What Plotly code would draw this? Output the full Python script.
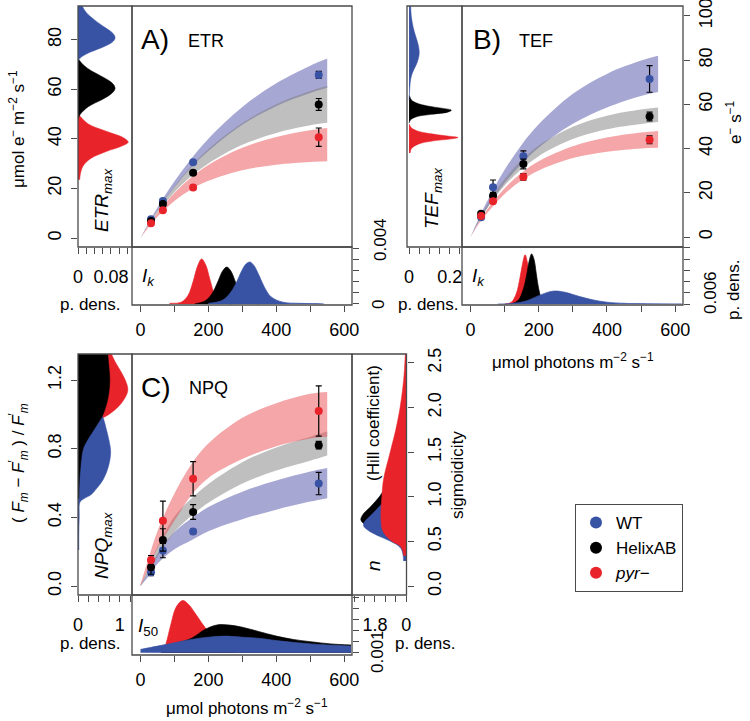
import plotly.graph_objects as go

# ---------------- data ----------------
light = [31, 66, 155, 525]

etr_wt = [7.6, 15.0, 30.6, 65.8];   etr_wt_err = [0.6, 0.8, 0.6, 1.4]
etr_hx = [6.9, 13.7, 26.3, 53.9];   etr_hx_err = [0.5, 0.8, 0.7, 2.4]
etr_pyr = [6.0, 11.2, 20.4, 40.7];  etr_pyr_err = [0.4, 0.6, 0.9, 3.7]

tef_wt = [9.0, 22.5, 36.5, 71.5];   tef_wt_err = [0.8, 3.3, 2.5, 6.0]
tef_hx = [10.5, 18.7, 33.0, 54.5];  tef_hx_err = [0.8, 1.5, 2.2, 2.0]
tef_pyr = [9.5, 16.2, 27.2, 44.0];  tef_pyr_err = [0.5, 0.8, 1.5, 1.8]

npq_wt = [0.08, 0.207, 0.318, 0.597];  npq_wt_err = [0.02, 0.042, 0.012, 0.065]
npq_hx = [0.109, 0.269, 0.431, 0.821]; npq_hx_err = [0.04, 0.065, 0.043, 0.022]
npq_pyr = [0.152, 0.38, 0.625, 1.02];  npq_pyr_err = [0.025, 0.115, 0.1, 0.146]

band_x = [0, 25, 50, 100, 150, 200, 300, 400, 500, 550]
etr_band_wt_lo = [0, 5.8, 11.1, 20.5, 28.5, 35.1, 45.7, 53.2, 58.5, 60.6]
etr_band_wt_hi = [0, 6.4, 12.3, 22.9, 32.1, 40.1, 52.9, 62.4, 69.5, 72.4]
etr_band_hx_lo = [0, 5.35, 10.3, 18.5, 25.0, 30.1, 37.6, 42.4, 45.5, 46.5]
etr_band_hx_hi = [0, 5.85, 11.3, 20.9, 29.0, 35.9, 46.4, 54.0, 59.3, 61.3]
etr_band_pyr_lo = [0, 4.6, 8.6, 15.0, 19.7, 23.1, 27.4, 29.6, 30.7, 31.0]
etr_band_pyr_hi = [0, 5.4, 10.2, 18.2, 24.5, 29.5, 36.4, 40.8, 43.5, 44.4]

tef_band_wt_lo = [0, 7.1, 13.5, 24.4, 33.2, 40.4, 51.2, 58.6, 63.8, 65.6]
tef_band_wt_hi = [0, 8.7, 16.5, 30.4, 41.8, 51.0, 64.8, 73.8, 79.8, 82.0]
tef_band_hx_lo = [0, 7.1, 13.3, 23.3, 30.8, 36.6, 44.3, 48.7, 51.1, 52.0]
tef_band_hx_hi = [0, 7.9, 14.9, 26.3, 34.8, 41.4, 49.9, 54.9, 57.7, 58.6]
tef_band_pyr_lo = [0, 6.1, 11.1, 19.5, 25.7, 30.1, 35.7, 38.6, 40.1, 40.4]
tef_band_pyr_hi = [0, 6.9, 12.7, 22.1, 29.1, 34.3, 41.1, 45.0, 47.3, 48.0]

npq_band_wt_lo = [0, 0.06, 0.13, 0.215, 0.267, 0.32, 0.39, 0.445, 0.492, 0.512]
npq_band_wt_hi = [0.005, 0.09, 0.19, 0.315, 0.393, 0.46, 0.55, 0.615, 0.668, 0.688]
npq_band_hx_lo = [0, 0.085, 0.17, 0.315, 0.41, 0.485, 0.598, 0.673, 0.73, 0.76]
npq_band_hx_hi = [0.005, 0.115, 0.23, 0.405, 0.51, 0.595, 0.722, 0.807, 0.87, 0.90]
npq_band_pyr_lo = [0, 0.11, 0.22, 0.38, 0.53, 0.63, 0.74, 0.815, 0.86, 0.87]
npq_band_pyr_hi = [0.01, 0.17, 0.32, 0.54, 0.71, 0.83, 0.98, 1.065, 1.12, 1.13]

# posterior densities
etrmax_wt_v = [71.5, 73, 75, 77, 79, 80.7, 82.5, 85, 88, 91, 93.6]
etrmax_wt_d = [0, 0.008, 0.03, 0.06, 0.083, 0.09, 0.085, 0.065, 0.04, 0.02, 0.01]
etrmax_hx_v = [48, 50, 53, 56, 58.5, 60.4, 62.5, 65, 67.5, 70, 72]
etrmax_hx_d = [0, 0.006, 0.025, 0.06, 0.083, 0.09, 0.083, 0.06, 0.032, 0.012, 0.002]
etrmax_pyr_v = [23.5, 26, 29, 32, 35, 37, 38.7, 40.5, 43, 46, 49.5]
etrmax_pyr_d = [0.004, 0.006, 0.012, 0.03, 0.07, 0.105, 0.122, 0.11, 0.07, 0.025, 0.003]

ik_etr_pyr_x = [86, 120, 140, 155, 168, 180, 192, 205, 220, 240, 270]
ik_etr_pyr_d = [0.0002, 0.0006, 0.003, 0.008, 0.0135, 0.0161, 0.014, 0.0085, 0.003, 0.0006, 0]
ik_etr_hx_x = [160, 190, 210, 228, 242, 254, 266, 280, 298, 320, 350]
ik_etr_hx_d = [0, 0.001, 0.0035, 0.008, 0.0118, 0.0132, 0.0118, 0.0078, 0.003, 0.0007, 0]
ik_etr_wt_x = [200, 240, 262, 280, 298, 310, 322, 334, 348, 365, 385, 420, 470, 520, 540]
ik_etr_wt_d = [0.0002, 0.0012, 0.0035, 0.007, 0.0118, 0.0142, 0.015, 0.0138, 0.0105, 0.006,
               0.0025, 0.0006, 0.0002, 0.0001, 0]

tefmax_wt_v = [62, 66, 70, 73, 76, 79, 83, 87, 91, 95, 100, 104.5]
tefmax_wt_d = [0, 0.003, 0.006, 0.012, 0.025, 0.04, 0.05, 0.045, 0.032, 0.02, 0.011, 0.008]
tefmax_hx_v = [51.5, 53, 54.5, 55.5, 56.5, 57.4, 58.3, 59.3, 60.5, 62, 64]
tefmax_hx_d = [0, 0.008, 0.04, 0.11, 0.19, 0.208, 0.16, 0.09, 0.04, 0.012, 0.002]
tefmax_pyr_v = [38, 40, 42, 43.5, 44.3, 45, 45.8, 46.8, 48, 49.5, 51]
tefmax_pyr_d = [0.005, 0.012, 0.045, 0.12, 0.2, 0.24, 0.18, 0.1, 0.04, 0.01, 0.002]

ik_tef_pyr_x = [100, 120, 135, 145, 152, 160, 167, 175, 185, 200]
ik_tef_pyr_d = [0, 0.001, 0.006, 0.014, 0.021, 0.0263, 0.022, 0.012, 0.004, 0]
ik_tef_hx_x = [120, 140, 155, 165, 172, 179, 186, 193, 200, 210, 225]
ik_tef_hx_d = [0, 0.002, 0.008, 0.016, 0.023, 0.0268, 0.024, 0.016, 0.008, 0.002, 0]
ik_tef_wt_x = [80, 120, 160, 200, 230, 250, 280, 320, 360, 400, 450, 520, 620]
ik_tef_wt_d = [0, 0.0003, 0.0015, 0.0045, 0.0065, 0.007, 0.0062, 0.004, 0.0022, 0.001,
               0.0004, 0.0002, 0.0001]

npqmax_pyr_v = [0.95, 0.98, 1.02, 1.07, 1.12, 1.15, 1.2, 1.26, 1.31, 1.352]
npqmax_pyr_d = [0.3, 0.6, 0.85, 1.05, 1.17, 1.19, 1.13, 1.0, 0.88, 0.8]
npqmax_wt_v = [0.21, 0.3, 0.4, 0.49, 0.51, 0.53, 0.57, 0.62, 0.7, 0.78, 0.85, 0.92, 0.98, 1.02]
npqmax_wt_d = [0.02, 0.02, 0.03, 0.05, 0.15, 0.3, 0.45, 0.6, 0.73, 0.78, 0.74, 0.67, 0.6, 0.5]
npqmax_hx_v = [0.51, 0.6, 0.7, 0.8, 0.85, 0.9, 0.95, 1.0, 1.1, 1.2, 1.3, 1.352]
npqmax_hx_d = [0.02, 0.03, 0.06, 0.12, 0.22, 0.35, 0.48, 0.6, 0.72, 0.76, 0.73, 0.71]

i50_pyr_x = [65, 75, 90, 105, 124, 140, 160, 180, 200, 220, 250, 280]
i50_pyr_d = [0, 0.0008, 0.0026, 0.0041, 0.0047, 0.0044, 0.0036, 0.0027, 0.0019, 0.0013, 0.0008, 0.0005]
i50_hx_x = [60, 100, 150, 190, 225, 260, 300, 350, 400, 450, 500, 560, 620]
i50_hx_d = [0.0004, 0.0008, 0.0013, 0.0021, 0.0025, 0.0025, 0.0023, 0.0019, 0.0015, 0.0012,
            0.001, 0.0008, 0.0007]
i50_wt_x = [0, 50, 100, 150, 200, 250, 300, 350, 400, 500, 620]
i50_wt_d = [0.0003, 0.0006, 0.0009, 0.0012, 0.0014, 0.0015, 0.0014, 0.0013, 0.0011, 0.0008, 0.0006]

n_hx_v = [0.45, 0.55, 0.62, 0.68, 0.74, 0.8, 0.9, 1.0, 1.1, 1.2, 1.4, 1.6, 1.8]
n_hx_d = [0.2, 0.8, 1.6, 2.3, 2.61, 2.5, 2.0, 1.55, 1.2, 0.9, 0.5, 0.25, 0.1]
n_wt_v = [0.28, 0.35, 0.42, 0.47, 0.52, 0.58, 0.64, 0.68, 0.72, 0.8, 0.9, 1.0, 1.1, 1.2]
n_wt_d = [0.15, 0.18, 0.3, 0.6, 1.1, 1.8, 2.3, 2.46, 2.4, 2.0, 1.5, 1.0, 0.6, 0.3]
n_pyr_v = [0.34, 0.4, 0.45, 0.5, 0.55, 0.6, 0.65, 0.75, 0.85, 1.0, 1.2, 1.5, 1.75, 2.0, 2.3, 2.6]
n_pyr_d = [0.15, 0.2, 0.35, 0.8, 1.1, 1.3, 1.4, 1.45, 1.45, 1.4, 1.3, 0.92, 0.6, 0.35, 0.15, 0.05]

x_ticks = [0, 100, 200, 300, 400, 500, 600]
x_ticktext = ["0", "", "200", "", "400", "", "600"]
groups = ["WT", "HelixAB", "<i>pyr</i>−"]

# ---------------- styling ----------------
W, H = 750, 721
def px(x): return x / W
def py(y): return 1 - y / H

FONT = "Liberation Sans, Arial, Helvetica, sans-serif"
BLUE, BLACK, RED = "#3953a4", "#000000", "#e8232a"
BAND_WT, BAND_HX, BAND_PYR = "rgba(80,80,170,0.5)", "rgba(128,128,128,0.5)", "rgba(233,77,81,0.5)"
FRAME = "#4a4a4a"

fig = go.Figure()

def band(lo, hi, col, xa, ya):
    fig.add_trace(go.Scatter(x=band_x, y=lo, mode="lines", line=dict(width=0, shape="spline"),
                             xaxis=xa, yaxis=ya, showlegend=False, hoverinfo="skip"))
    fig.add_trace(go.Scatter(x=band_x, y=hi, mode="lines", line=dict(width=0, shape="spline"),
                             fill="tonexty", fillcolor=col, xaxis=xa, yaxis=ya,
                             showlegend=False, hoverinfo="skip"))

def points(y, err, col, xa, ya):
    fig.add_trace(go.Scatter(x=light, y=y, mode="markers", xaxis=xa, yaxis=ya, showlegend=False,
                             marker=dict(color=col, size=8),
                             error_y=dict(type="data", array=err, color="black", thickness=1.2, width=3)))

def dens_h(v, d, col, xa, ya):
    fig.add_trace(go.Scatter(x=d, y=v, mode="lines", fill="tozerox", fillcolor=col,
                             line=dict(color=col, width=0.5, shape="spline"),
                             xaxis=xa, yaxis=ya, showlegend=False, hoverinfo="skip"))

def dens_v(xv, d, col, xa, ya):
    fig.add_trace(go.Scatter(x=xv, y=d, mode="lines", fill="tozeroy", fillcolor=col,
                             line=dict(color=col, width=0.7, shape="spline"),
                             xaxis=xa, yaxis=ya, showlegend=False, hoverinfo="skip"))

# Panel A
dens_h(etrmax_pyr_v, etrmax_pyr_d, RED, "x", "y")
dens_h(etrmax_hx_v, etrmax_hx_d, BLACK, "x", "y")
dens_h(etrmax_wt_v, etrmax_wt_d, BLUE, "x", "y")
band(etr_band_wt_lo, etr_band_wt_hi, BAND_WT, "x2", "y")
band(etr_band_hx_lo, etr_band_hx_hi, BAND_HX, "x2", "y")
band(etr_band_pyr_lo, etr_band_pyr_hi, BAND_PYR, "x2", "y")
points(etr_wt, etr_wt_err, BLUE, "x2", "y")
points(etr_hx, etr_hx_err, BLACK, "x2", "y")
points(etr_pyr, etr_pyr_err, RED, "x2", "y")
dens_v(ik_etr_pyr_x, ik_etr_pyr_d, RED, "x2", "y2")
dens_v(ik_etr_hx_x, ik_etr_hx_d, BLACK, "x2", "y2")
dens_v(ik_etr_wt_x, ik_etr_wt_d, BLUE, "x2", "y2")

# Panel B
dens_h(tefmax_pyr_v, tefmax_pyr_d, RED, "x3", "y3")
dens_h(tefmax_hx_v, tefmax_hx_d, BLACK, "x3", "y3")
dens_h(tefmax_wt_v, tefmax_wt_d, BLUE, "x3", "y3")
band(tef_band_wt_lo, tef_band_wt_hi, BAND_WT, "x4", "y3")
band(tef_band_hx_lo, tef_band_hx_hi, BAND_HX, "x4", "y3")
band(tef_band_pyr_lo, tef_band_pyr_hi, BAND_PYR, "x4", "y3")
points(tef_wt, tef_wt_err, BLUE, "x4", "y3")
points(tef_hx, tef_hx_err, BLACK, "x4", "y3")
points(tef_pyr, tef_pyr_err, RED, "x4", "y3")
dens_v(ik_tef_pyr_x, ik_tef_pyr_d, RED, "x4", "y4")
dens_v(ik_tef_hx_x, ik_tef_hx_d, BLACK, "x4", "y4")
dens_v(ik_tef_wt_x, ik_tef_wt_d, BLUE, "x4", "y4")

# Panel C
dens_h(npqmax_pyr_v, npqmax_pyr_d, RED, "x5", "y5")
dens_h(npqmax_wt_v, npqmax_wt_d, BLUE, "x5", "y5")
dens_h(npqmax_hx_v, npqmax_hx_d, BLACK, "x5", "y5")
band(npq_band_wt_lo, npq_band_wt_hi, BAND_WT, "x6", "y5")
band(npq_band_hx_lo, npq_band_hx_hi, BAND_HX, "x6", "y5")
band(npq_band_pyr_lo, npq_band_pyr_hi, BAND_PYR, "x6", "y5")
points(npq_wt, npq_wt_err, BLUE, "x6", "y5")
points(npq_hx, npq_hx_err, BLACK, "x6", "y5")
points(npq_pyr, npq_pyr_err, RED, "x6", "y5")
dens_v(i50_pyr_x, i50_pyr_d, RED, "x6", "y6")
dens_v(i50_hx_x, i50_hx_d, BLACK, "x6", "y6")
dens_v(i50_wt_x, i50_wt_d, BLUE, "x6", "y6")
dens_h(n_hx_v, n_hx_d, BLACK, "x7", "y7")
dens_h(n_wt_v, n_wt_d, BLUE, "x7", "y7")
dens_h(n_pyr_v, n_pyr_d, RED, "x7", "y7")

# legend entries
for name, col in zip(groups, [BLUE, BLACK, RED]):
    fig.add_trace(go.Scatter(x=[None], y=[None], mode="markers", name=name,
                             marker=dict(color=col, size=7), xaxis="x2", yaxis="y"))

# ---------------- axes ----------------
TF = dict(family=FONT, size=18, color="black")
base = dict(showgrid=False, zeroline=False, showline=False, ticks="outside", ticklen=6,
            tickwidth=1, tickcolor=FRAME, tickfont=TF, automargin=False,
            ticklabeloverflow="allow")

def xa(dom, rng, anchor, **kw):
    d = dict(base); d.update(domain=[px(dom[0]), px(dom[1])], range=rng, anchor=anchor); d.update(kw)
    return d

def ya(dom, rng, anchor, **kw):
    d = dict(base); d.update(domain=[py(dom[1]), py(dom[0])], range=rng, anchor=anchor); d.update(kw)
    return d

XR = [-25, 623]
fig.update_layout(
    xaxis=xa((78, 132), [0, 0.131], "y", tickvals=[0, 0.02, 0.04, 0.06, 0.08, 0.1, 0.12],
             ticktext=["0", "", "", "", "0.08", "", ""], ticklabelstandoff=7),
    yaxis=ya((6, 247), [-3.6, 93.6], "x", tickvals=[0, 20, 40, 60, 80], tickangle=-90,
             ticklabelstandoff=3),
    xaxis2=xa((132, 352), XR, "y2", tickvals=x_ticks, ticktext=x_ticktext, ticklabelstandoff=2),
    yaxis2=ya((247, 305), [-0.0004, 0.0204], "x2", side="right",
              tickvals=[0, 0.004, 0.008, 0.012, 0.016, 0.02], showticklabels=False),
    xaxis3=xa((407, 462), [-0.01, 0.26], "y3", tickvals=[0, 0.05, 0.1, 0.15, 0.2, 0.25],
              ticktext=["0", "", "", "", "0.2", ""], ticklabelstandoff=7),
    yaxis3=ya((6, 247), [-4.5, 104.5], "x4", side="right", tickvals=[0, 20, 40, 60, 80, 100],
              tickangle=-90, ticklabelstandoff=0),
    xaxis4=xa((462, 683), XR, "y4", tickvals=x_ticks, ticktext=x_ticktext, ticklabelstandoff=2),
    yaxis4=ya((247, 305), [-0.0005, 0.0305], "x4", side="right",
              tickvals=[0, 0.006, 0.012, 0.018, 0.024, 0.03], showticklabels=False),
    xaxis5=xa((78, 132), [0, 1.29], "y5", tickvals=[0, 0.25, 0.5, 0.75, 1.0, 1.25],
              ticktext=["0", "", "", "", "1", ""], ticklabelstandoff=7),
    yaxis5=ya((354, 595), [-0.052, 1.352], "x5", tickvals=[0, 0.4, 0.8, 1.2],
              ticktext=["0.0", "0.4", "0.8", "1.2"], tickangle=-90, ticklabelstandoff=3),
    xaxis6=xa((132, 352), XR, "y6", tickvals=x_ticks, ticktext=x_ticktext, ticklabelstandoff=2),
    yaxis6=ya((595, 655), [-0.0002, 0.0052], "x6", side="right",
              tickvals=[0, 0.001, 0.002, 0.003, 0.004, 0.005], showticklabels=False),
    xaxis7=xa((352, 406.5), [3.12, -0.02], "y7", tickvals=[0, 0.6, 1.2, 1.8, 2.4, 3.0],
              ticktext=["0", "", "", "1.8", "", ""], ticklabelstandoff=7),
    yaxis7=ya((354, 595), [-0.1, 2.6], "x7", side="right", tickvals=[0, 0.5, 1.0, 1.5, 2.0, 2.5],
              ticktext=["0.0", "0.5", "1.0", "1.5", "2.0", "2.5"], tickangle=-90, ticklabelstandoff=6),
)

# ---------------- frames ----------------
frames = [(78, 6, 132, 247), (132, 6, 352, 247), (132, 247, 352, 305),
          (407, 6, 462, 247), (462, 6, 683, 247), (462, 247, 683, 305),
          (78, 354, 132, 595), (132, 354, 352, 595), (132, 595, 352, 655),
          (352, 354, 406.5, 595)]
shapes = [dict(type="rect", xref="paper", yref="paper", x0=px(a), x1=px(c), y0=py(d), y1=py(b),
               line=dict(color=FRAME, width=1.3), layer="above") for a, b, c, d in frames]

# ---------------- text ----------------
anns = []
def ann(text, x, y, size=18, angle=0):
    anns.append(dict(text=text, x=px(x), y=py(y), xref="paper", yref="paper", showarrow=False,
                     textangle=angle, xanchor="center", yanchor="middle",
                     font=dict(family=FONT, size=size, color="black")))

ann("μmol e<sup>−</sup> m<sup>−2</sup> s<sup>−1</sup>", 17, 129, 17, -90)
ann("<i>ETR<sub>max</sub></i>", 103, 200, 19, -90)
ann("p. dens.", 90, 304, 17)
ann("A)", 155, 40, 28)
ann("ETR", 206, 41, 18)
ann("<i>I<sub>k</sub></i>", 148, 277, 19)
ann("0.004", 380, 240, 17, -90)
ann("0", 378, 305, 17, -90)

ann("<i>TEF<sub>max</sub></i>", 433, 198, 19, -90)
ann("p. dens.", 428, 304, 17)
ann("B)", 487, 40, 28)
ann("TEF", 536, 41, 18)
ann("<i>I<sub>k</sub></i>", 478, 277, 19)
ann("0.006", 710, 293, 17, -90)
ann("p. dens.", 733, 290, 17, -90)
ann("e<sup>−</sup> s<sup>−1</sup>", 734, 122, 17, -90)
ann("μmol photons m<sup>−2</sup> s<sup>−1</sup>", 573, 361, 17)

ann("( <i>F<sub>m</sub></i> − <i>F</i><sup>′</sup><sub><i>m</i></sub> ) / <i>F</i><sup>′</sup><sub><i>m</i></sub>",
    18, 463, 17, -90)
ann("<i>NPQ<sub>max</sub></i>", 103, 545, 19, -90)
ann("p. dens.", 90, 643, 17)
ann("C)", 156, 387, 28)
ann("NPQ", 208, 388, 18)
ann("<i>I</i><sub>50</sub>", 148, 627, 19)
ann("0.001", 377, 652, 17, -90)
ann("<i>n</i>", 373, 566, 19, -90)
ann("(Hill coefficient)", 373, 423, 17, -90)
ann("sigmoidicity", 457, 475, 17, -90)
ann("p. dens.", 425, 643, 17)
ann("μmol photons m<sup>−2</sup> s<sup>−1</sup>", 247, 707, 17)

fig.update_layout(
    width=W, height=H, margin=dict(l=0, r=0, t=0, b=0),
    paper_bgcolor="white", plot_bgcolor="white",
    font=dict(family=FONT, size=17, color="black"),
    shapes=shapes, annotations=anns, showlegend=True,
    legend=dict(x=px(575), y=py(504), xanchor="left", yanchor="top",
                bordercolor=FRAME, borderwidth=1, bgcolor="white",
                font=dict(family=FONT, size=17), itemsizing="constant",
                tracegroupgap=0, traceorder="normal"),
)

fig.write_html("out.html", config={"displayModeBar": False},
               post_script="document.body.style.margin='0';document.body.style.padding='0';")
